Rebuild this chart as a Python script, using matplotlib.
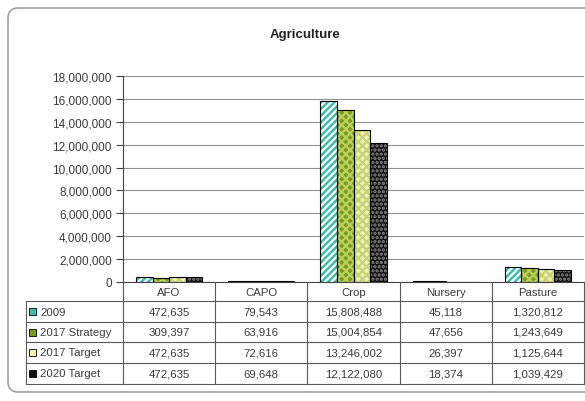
import matplotlib.pyplot as plt
import matplotlib.transforms as mtransforms
from matplotlib.patches import FancyBboxPatch, Rectangle
from matplotlib.lines import Line2D
import numpy as np

plt.rcParams.update({
    'font.family': ['Liberation Sans', 'DejaVu Sans'],
    'font.size': 8,
    'hatch.linewidth': 1.6,
})

# data
categories = ["AFO", "CAPO", "Crop", "Nursery", "Pasture"]
series = ["2009", "2017 Strategy", "2017 Target", "2020 Target"]
v_2009 = [472635, 79543, 15808488, 45118, 1320812]
v_2017_strategy = [309397, 63916, 15004854, 47656, 1243649]
v_2017_target = [472635, 72616, 13246002, 26397, 1125644]
v_2020_target = [472635, 69648, 12122080, 18374, 1039429]
values = [v_2009, v_2017_strategy, v_2017_target, v_2020_target]

# styles: face, hatch colour, hatch
styles = [
    ("#3dbdac", "white", "/////"),
    ("#7a9a18", "#b9d060", "xxxx"),
    ("#f2f2b0", "#c9d27a", "xxxx"),
    ("#111111", "#8a8a8a", "...."),
]

W, H = 585, 402
fig = plt.figure(figsize=(W / 100, H / 100), dpi=100)
fig.patch.set_facecolor("white")

txt_c = "#3a3a3a"


def fx(x):
    return x / W


def fy(y):
    return 1 - y / H


# rounded outer frame in pixels (right side runs off the picture)
frame = FancyBboxPatch((8, H - 393), 660, 384,
                       boxstyle="round,pad=0,rounding_size=10",
                       transform=mtransforms.IdentityTransform(), fill=False,
                       edgecolor="#a0a0a0", linewidth=1.2)
fig.add_artist(frame)

fig.text(fx(305), fy(35), "Agriculture", ha="center", va="center",
         fontsize=9.5, fontweight="bold", color="#222222")

ax_left, ax_right, ax_top, ax_bot = 123, 584, 77, 283
ax = fig.add_axes([fx(ax_left), fy(ax_bot), (ax_right - ax_left) / W,
                   (ax_bot - ax_top) / H])

n = len(series)
bw = 0.18
x = np.arange(len(categories))
for i, (vals, (face, hc, hatch)) in enumerate(zip(values, styles)):
    pos = x + (i - (n - 1) / 2) * bw
    ax.bar(pos, vals, bw, color=face, linewidth=0, zorder=3)
    ax.bar(pos, vals, bw, color="none", edgecolor=hc, hatch=hatch,
           linewidth=0, zorder=3)
    ax.bar(pos, vals, bw, color="none", edgecolor="black", linewidth=0.8,
           zorder=4)

ax.set_xlim(-0.5, len(categories) - 0.5)
ax.set_ylim(0, 18000000)
ax.set_yticks(np.arange(0, 18000001, 2000000))
ax.yaxis.set_major_formatter(plt.FuncFormatter(lambda v, p: f"{v:,.0f}"))
ax.tick_params(axis="y", length=5, width=0.8, colors="#444444",
               labelsize=8.5, labelcolor=txt_c, pad=3)
ax.set_xticks([])
ax.grid(axis="y", color="#909090", linewidth=0.8, zorder=0)
for s in ["top", "right"]:
    ax.spines[s].set_visible(False)
ax.spines["left"].set_color("#444444")
ax.spines["bottom"].set_color("#444444")
ax.spines["left"].set_linewidth(0.8)
ax.spines["bottom"].set_linewidth(0.8)

# data table under the plot, columns aligned with categories
blend = mtransforms.blended_transform_factory(ax.transData, fig.transFigure)
line_c = "#5a5a5a"
row_edges = [283, 302, 323, 343, 364, 385]
tbl_left = 26
tsize = 8.2

# vertical lines between columns
for k in range(len(categories) + 1):
    xe = k - 0.5
    fig.add_artist(Line2D([xe, xe], [fy(283), fy(385)], transform=blend,
                          color=line_c, linewidth=0.8))
# left label column border
fig.add_artist(Line2D([fx(tbl_left), fx(tbl_left)], [fy(302), fy(385)],
                      transform=fig.transFigure, color=line_c, linewidth=0.8))
for ye in row_edges[1:]:
    fig.add_artist(Line2D([fx(tbl_left), fx(ax_right)], [fy(ye), fy(ye)],
                          transform=fig.transFigure, color=line_c,
                          linewidth=0.8))

# header
for k, cat in enumerate(categories):
    fig.text(k, fy((row_edges[0] + row_edges[1]) / 2), cat, transform=blend,
             ha="center", va="center", fontsize=tsize, color=txt_c)

# rows
for r, (name, vals, (face, hc, hatch)) in enumerate(zip(series, values, styles)):
    yc = fy((row_edges[r + 1] + row_edges[r + 2]) / 2)
    sw = Rectangle((fx(29), yc - 3.5 / H), fx(7), 7 / H,
                   transform=fig.transFigure, facecolor=face,
                   edgecolor="black", linewidth=0.6)
    fig.add_artist(sw)
    fig.text(fx(40), yc, name, ha="left", va="center", fontsize=tsize,
             color=txt_c)
    for k, v in enumerate(vals):
        fig.text(k, yc, f"{v:,}", transform=blend, ha="center", va="center",
                 fontsize=tsize, color=txt_c)

fig.savefig("out.png", dpi=100, facecolor="white")
